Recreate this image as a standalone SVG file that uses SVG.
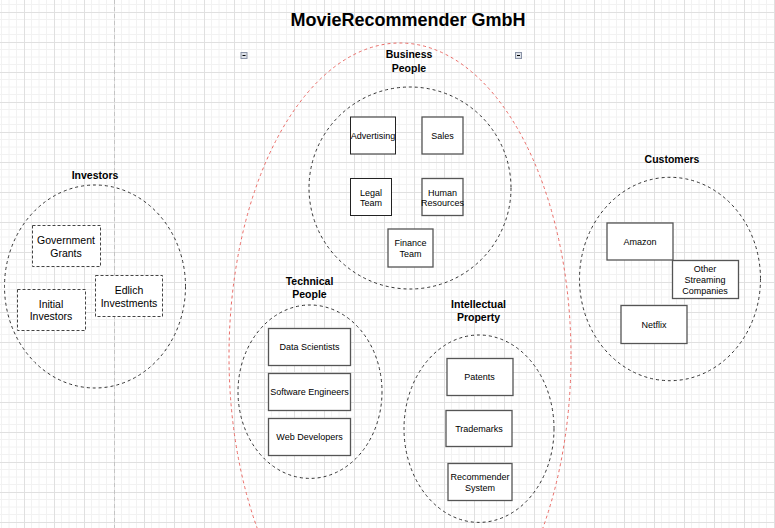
<svg xmlns="http://www.w3.org/2000/svg" width="775" height="528" viewBox="0 0 775 528">
  <style>
    .lbl{font-family:"Liberation Sans",Arial,sans-serif;font-size:10.5px;font-weight:bold;fill:#000;text-anchor:middle}
    .t9{font-family:"Liberation Sans",Arial,sans-serif;font-size:9px;fill:#000;text-anchor:middle}
    .t10{font-family:"Liberation Sans",Arial,sans-serif;font-size:10.5px;fill:#000;text-anchor:middle}
    .grp{fill:none;stroke:#333;stroke-width:1;stroke-dasharray:3 3}
    .box{fill:#fff;stroke:#555;stroke-width:1.3}
    .boxd{fill:#fff;stroke:#222;stroke-width:1}
    .dbox{fill:#fff;stroke:#444;stroke-width:1;stroke-dasharray:3 2}
    .icon{fill:#dde1e8;stroke:#8a93a6;stroke-width:1}
  </style>
  <defs>
    <pattern id="grid" patternUnits="userSpaceOnUse" x="24" y="12" width="30" height="30">
      <path d="M7.5 0V30M15 0V30M22.5 0V30M0 7.5H30M0 15H30M0 22.5H30" stroke="#f2f2f2" stroke-width="1" fill="none"/>
      <path d="M0.5 0V30M0 0.5H30" stroke="#e0e0e0" stroke-width="1" fill="none"/>
    </pattern>
  </defs>
  <rect x="0" y="0" width="775" height="528" fill="#fff"/>
  <rect x="0" y="0" width="775" height="528" fill="url(#grid)"/>
  <line x1="114.5" y1="0" x2="114.5" y2="528" stroke="#c4c4c4" stroke-width="1" stroke-dasharray="4 3"/>

  <text x="408" y="26" font-family="Liberation Sans,Arial,sans-serif" font-size="18" font-weight="bold" text-anchor="middle">MovieRecommender GmbH</text>

  <g id="company-container">
    <ellipse cx="400" cy="356" rx="171" ry="313" fill="none" stroke="#ea6b66" stroke-width="1" stroke-dasharray="3 3"/>
    <rect class="icon" x="241" y="52.5" width="6" height="6"/>
    <line x1="242.5" y1="55.5" x2="245.5" y2="55.5" stroke="#000" stroke-width="1"/>
    <rect class="icon" x="515.5" y="52.5" width="6" height="6"/>
    <line x1="517" y1="55.5" x2="520" y2="55.5" stroke="#000" stroke-width="1"/>
  </g>

  <g id="connectors"></g>

  <g id="business-people">
    <text class="lbl" x="409" y="58">Business</text>
    <text class="lbl" x="409" y="71.5">People</text>
    <circle class="grp" cx="410" cy="188" r="101"/>
  </g>
  <g id="advertising"><rect class="boxd" x="350.5" y="117" width="45" height="37"/><text class="t9" x="373" y="138.7">Advertising</text></g>
  <g id="sales"><rect class="box" x="422" y="117" width="41" height="37"/><text class="t9" x="442.5" y="138.7">Sales</text></g>
  <g id="legal-team"><rect class="boxd" x="350.5" y="178.5" width="41" height="37"/><text class="t9" x="371" y="195.5">Legal</text><text class="t9" x="371" y="206">Team</text></g>
  <g id="human-resources"><rect class="box" x="422" y="178.5" width="41" height="37"/><text class="t9" x="442.5" y="195.5">Human</text><text class="t9" x="442.5" y="206">Resources</text></g>
  <g id="finance-team"><rect class="box" x="388" y="229" width="45" height="38"/><text class="t9" x="410.5" y="246">Finance</text><text class="t9" x="410.5" y="256.5">Team</text></g>

  <g id="technical-people">
    <text class="lbl" x="309.5" y="284.5">Technical</text>
    <text class="lbl" x="309.5" y="297.5">People</text>
    <ellipse class="grp" cx="310" cy="391.7" rx="72" ry="86.7"/>
  </g>
  <g id="data-scientists"><rect class="box" x="268.5" y="328.5" width="82" height="37"/><text class="t9" x="309.5" y="350.2">Data Scientists</text></g>
  <g id="software-engineers"><rect class="box" x="268.5" y="373.5" width="82" height="37"/><text class="t9" x="309.5" y="395.2">Software Engineers</text></g>
  <g id="web-developers"><rect class="box" x="268.5" y="418.5" width="82" height="37"/><text class="t9" x="309.5" y="440.2">Web Developers</text></g>

  <g id="intellectual-property">
    <text class="lbl" x="478.5" y="307.5">Intellectual</text>
    <text class="lbl" x="478.5" y="320.5">Property</text>
    <ellipse class="grp" cx="479" cy="428.7" rx="75" ry="93.7"/>
  </g>
  <g id="patents"><rect class="box" x="447" y="358.5" width="66" height="37"/><text class="t9" x="479.5" y="380">Patents</text></g>
  <g id="trademarks"><rect class="box" x="446" y="410.5" width="66" height="36"/><text class="t9" x="479" y="431.7">Trademarks</text></g>
  <g id="recommender-system"><rect class="box" x="448" y="463.5" width="64" height="37"/><text class="t9" x="480" y="479.8">Recommender</text><text class="t9" x="480" y="490.8">System</text></g>

  <g id="investors">
    <text class="lbl" x="95" y="178.5">Investors</text>
    <ellipse class="grp" cx="95" cy="286.5" rx="90.5" ry="101.5"/>
  </g>
  <g id="government-grants"><rect class="dbox" x="32.5" y="225.5" width="68" height="41"/><text class="t10" x="66" y="243.8">Government</text><text class="t10" x="66" y="257">Grants</text></g>
  <g id="edlich-investments"><rect class="dbox" x="95.5" y="275.5" width="67" height="41"/><text class="t10" x="129" y="293.8">Edlich</text><text class="t10" x="129" y="307">Investments</text></g>
  <g id="initial-investors"><rect class="dbox" x="17.5" y="289.5" width="68" height="41"/><text class="t10" x="51" y="308">Initial</text><text class="t10" x="51" y="320">Investors</text></g>

  <g id="customers">
    <text class="lbl" x="672" y="163">Customers</text>
    <ellipse class="grp" cx="670" cy="279" rx="90.5" ry="101.7"/>
  </g>
  <g id="amazon"><rect class="box" x="607" y="223" width="66" height="37"/><text class="t9" x="640" y="244.7">Amazon</text></g>
  <g id="other-streaming"><rect class="box" x="672.5" y="260.5" width="66" height="38"/><text class="t9" x="705" y="272.2">Other</text><text class="t9" x="705" y="283.2">Streaming</text><text class="t9" x="705" y="293.7">Companies</text></g>
  <g id="netflix"><rect class="box" x="621" y="305.5" width="66" height="38"/><text class="t9" x="654" y="327.7">Netflix</text></g>
</svg>
